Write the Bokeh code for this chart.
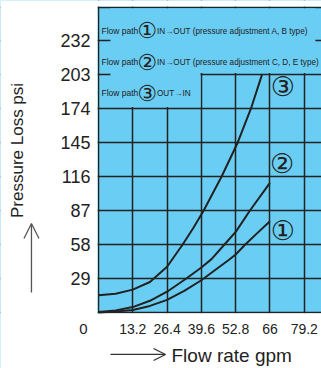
from math import pi
from bokeh.plotting import figure
from bokeh.models import FixedTicker, BoxAnnotation, Label, Arrow, OpenHead, Grid
from bokeh.core.properties import value
from bokeh.embed import file_html
from bokeh.resources import INLINE

# ---- data ----
x_ticks = [13.2, 26.4, 39.6, 52.8, 66, 79.2]
x_tick_labels = ["13.2", "26.4", "39.6", "52.8", "66", "79.2"]
y_ticks = [29, 58, 87, 116, 145, 174, 203, 232]
y_tick_labels = ["29", "58", "87", "116", "145", "174", "203", "232"]

flow_1 = [0, 6.6, 13.2, 19.8, 26.4, 33, 39.6, 44.9, 50, 52.8, 56.5, 61, 66]
loss_1 = [0, 0.8, 2.1, 5.6, 10.8, 18.5, 27.5, 36.2, 44.5, 49.5, 58, 67.5, 77.9]

flow_2 = [0, 6.6, 13.2, 19.8, 26.4, 33.8, 39.6, 43.5, 48.5, 52.9, 58.3, 66]
loss_2 = [0.5, 1.8, 4.6, 10, 17.7, 29, 38.4, 45.5, 58, 69, 87, 110.5]

flow_3 = [0, 6.6, 13.2, 19.8, 26.4, 32.4, 36.5, 40.5, 47.4, 53.6, 58.7, 63.0]
loss_3 = [14.8, 16, 19.5, 26, 39, 58, 72, 87, 116, 145, 174, 203.3]

path_marks = ["①", "②", "③"]
path_texts = ["IN→OUT (pressure adjustment A, B type)",
              "IN→OUT (pressure adjustment C, D, E type)",
              "OUT→IN"]
path_label = "Flow path"
x_title = "Flow rate gpm"
y_title = "Pressure Loss psi"

BG = "#6ACDF3"
INK = "#222222"
SANS = "Liberation Sans"

# The frame covers the whole canvas; the chart area starts at data (0, 0).
X0, X1 = -37.72, 85.84
Y0, Y1 = -47.77, 266.1
TOP = 260.3

p = figure(width=321, height=368, x_range=(X0, X1), y_range=(Y0, Y1),
           x_axis_type=None, y_axis_type=None,
           output_backend="svg", toolbar_location=None, min_border=0)
p.background_fill_color = BG
p.border_fill_color = "white"
p.outline_line_color = None

# grid (incl. the chart borders at 0 and at the top)
xg = Grid(dimension=0, ticker=FixedTicker(ticks=[0] + x_ticks),
          grid_line_color=INK, grid_line_width=1.5)
yg = Grid(dimension=1, ticker=FixedTicker(ticks=[0] + y_ticks + [TOP]),
          grid_line_color=INK, grid_line_width=1.5)
p.add_layout(xg)
p.add_layout(yg)

# white margins (left of x=0, below y=0, above the top border)
p.add_layout(BoxAnnotation(right=-0.35, fill_color="white", fill_alpha=1,
                           line_color=None, level="underlay"))
p.add_layout(BoxAnnotation(top=-0.7, fill_color="white", fill_alpha=1,
                           line_color=None, level="underlay"))
p.add_layout(BoxAnnotation(bottom=TOP + 0.7, fill_color="white", fill_alpha=1,
                           line_color=None, level="underlay"))
# blue boxes behind the path texts (hide the grid there)
p.add_layout(BoxAnnotation(left=4.6, right=83.5, bottom=y_ticks[6] + 1.2, top=TOP - 0.8,
                           fill_color=BG, fill_alpha=1, line_color=None,
                           level="underlay"))
p.add_layout(BoxAnnotation(left=4.6, right=x_ticks[2] - 0.35, bottom=y_ticks[5] + 1.2,
                           top=y_ticks[6] + 1.5,
                           fill_color=BG, fill_alpha=1, line_color=None,
                           level="underlay"))

# curves
for fx, ly in ((flow_1, loss_1), (flow_2, loss_2), (flow_3, loss_3)):
    p.line(fx, ly, line_color=INK, line_width=2, line_join="round")

# tick labels
p.text(x=x_ticks, y=[-14.5] * len(x_ticks), text=x_tick_labels,
       text_align="center", text_baseline="middle",
       text_font=value(SANS), text_font_size="14px", text_color=INK)
p.text(x=[-3.1] * len(y_ticks), y=y_ticks, text=y_tick_labels,
       text_align="right", text_baseline="middle",
       text_font=value(SANS), text_font_size="18px", text_color=INK)
p.text(x=[-5.8], y=[-14.1], text=["0"], text_align="center", text_baseline="middle",
       text_font=value(SANS), text_font_size="15px", text_color=INK)

# curve end marks
end_pos = [(71, 69.9), (70.7, 127.1), (71, 192.8)]
for mark, (ex, ey) in zip(path_marks, end_pos):
    p.add_layout(Label(x=ex, y=ey, text=mark, text_align="center",
                       text_baseline="middle", text_font="DejaVu Sans",
                       text_font_size="27px", text_color=INK))

# path texts
text_y = [239.7, 213.6, 186.8]
mark_y = [240.5, 213.2, 186.8]
for mark, txt, ty, my in zip(path_marks, path_texts, text_y, mark_y):
    p.add_layout(Label(x=1.15, y=ty, text=path_label, text_align="left",
                       text_baseline="middle", text_font=SANS,
                       text_font_size="8.5px", text_color=INK))
    p.add_layout(Label(x=18.75, y=my, text=mark, text_align="center",
                       text_baseline="middle", text_font="DejaVu Sans",
                       text_font_size="22px", text_color=INK))
    p.add_layout(Label(x=22.5, y=ty, text=txt, text_align="left",
                       text_baseline="middle", text_font=SANS,
                       text_font_size="8.2px", text_color=INK))

# axis titles and arrows
p.add_layout(Label(x=28.1, y=-36.6, text=x_title, text_align="left",
                   text_baseline="middle", text_font=SANS,
                   text_font_size="19px", text_color=INK))
p.add_layout(Label(x=-31.0, y=138.2, text=y_title, angle=pi / 2,
                   text_align="center", text_baseline="middle",
                   text_font=SANS, text_font_size="17px", text_color=INK))
p.add_layout(Arrow(x_start=-25.8, y_start=17.1, x_end=-25.8, y_end=75.9,
                   line_color="#555555", line_width=1.3,
                   end=OpenHead(size=15, line_color="#555555", line_width=1.3)))
p.add_layout(Arrow(x_start=4.6, y_start=-35.8, x_end=25.8, y_end=-35.8,
                   line_color="#333333", line_width=1.3,
                   end=OpenHead(size=12, line_color="#333333", line_width=1.3)))

open("out.html", "w").write(file_html(p, INLINE))
